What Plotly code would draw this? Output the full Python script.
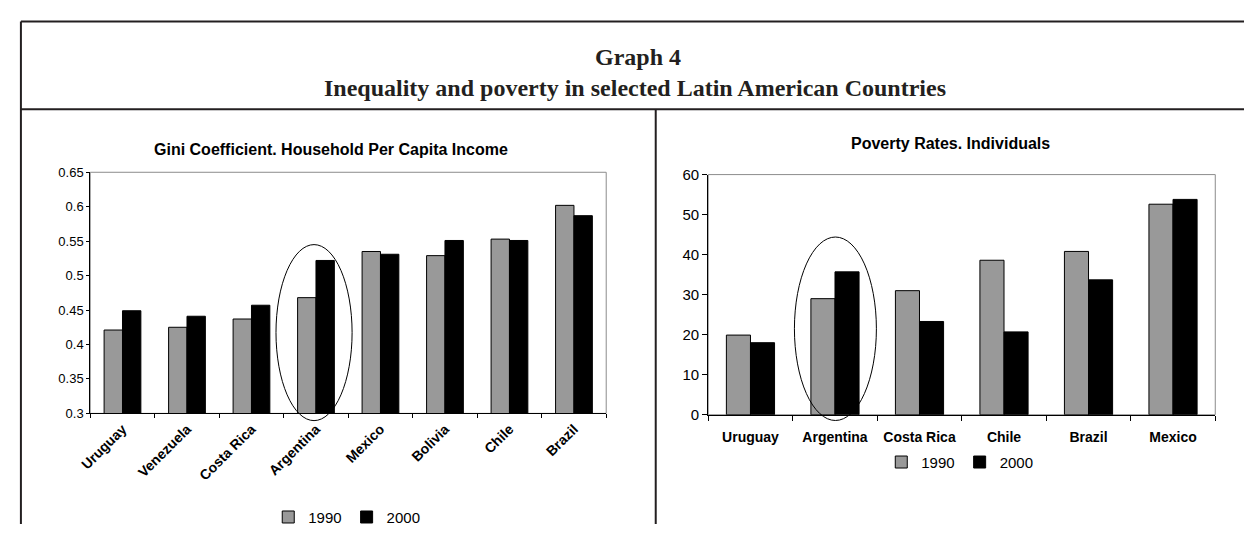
import plotly.graph_objects as go

W, H = 1244, 534

# Gini coefficient, household per capita income
gini_countries = ["Uruguay", "Venezuela", "Costa Rica", "Argentina",
                  "Mexico", "Bolivia", "Chile", "Brazil"]
gini_1990 = [0.421, 0.425, 0.437, 0.468, 0.535, 0.529, 0.553, 0.602]
gini_2000 = [0.449, 0.441, 0.457, 0.522, 0.531, 0.551, 0.551, 0.587]
gini_tickvals = [0.3, 0.35, 0.4, 0.45, 0.5, 0.55, 0.6, 0.65]
gini_ticktext = ["0.3", "0.35", "0.4", "0.45", "0.5", "0.55", "0.6", "0.65"]

# Poverty rates, individuals (%)
pov_countries = ["Uruguay", "Argentina", "Costa Rica", "Chile", "Brazil", "Mexico"]
pov_1990 = [19.9, 29.0, 31.0, 38.6, 40.8, 52.6]
pov_2000 = [18.0, 35.7, 23.3, 20.7, 33.7, 53.8]
pov_tickvals = [0, 10, 20, 30, 40, 50, 60]
pov_ticktext = ["0", "10", "20", "30", "40", "50", "60"]

years = ["1990", "2000"]
GREY = "#999999"
BLACK = "#000000"
SANS = "Liberation Sans, Arial, sans-serif"
SERIF = "Liberation Serif, Times New Roman, serif"
FRAME = "#231f20"


def px(x):
    return x / W


def py(y):
    return 1 - y / H


fig = go.Figure()

for name, vals, col in [(years[0], gini_1990, GREY), (years[1], gini_2000, BLACK)]:
    fig.add_trace(go.Bar(
        x=gini_countries, y=vals, name=name, xaxis="x", yaxis="y",
        marker=dict(color=col, line=dict(color="#000000", width=1)),
        legend="legend", hoverinfo="x+y",
    ))

for name, vals, col in [(years[0], pov_1990, GREY), (years[1], pov_2000, BLACK)]:
    fig.add_trace(go.Bar(
        x=pov_countries, y=vals, name=name, xaxis="x2", yaxis="y2",
        marker=dict(color=col, line=dict(color="#000000", width=1)),
        legend="legend2", hoverinfo="x+y",
    ))

axis_common = dict(showgrid=False, zeroline=False, showline=True,
                   linecolor="#000000", linewidth=1, ticks="outside",
                   tickcolor="#000000", fixedrange=True)

fig.update_layout(
    width=W, height=H, autosize=False,
    margin=dict(l=0, r=0, t=0, b=0),
    paper_bgcolor="white", plot_bgcolor="white",
    barmode="group", bargap=0.43, bargroupgap=0,
    font=dict(family=SANS, color="#000000"),
    xaxis=dict(domain=[px(79), px(600)], anchor="y", type="category",
               tickson="boundaries", ticklen=4, tickangle=-45,
               ticklabelstandoff=1,
               tickfont=dict(family=SANS, size=14, weight="bold"),
               **axis_common),
    yaxis=dict(domain=[py(419.3), py(169.3)], anchor="x",
               range=[0.3, 0.65], tickvals=gini_tickvals, ticktext=gini_ticktext,
               ticklen=3, tickfont=dict(family=SANS, size=13), **axis_common),
    xaxis2=dict(domain=[px(703), px(1215)], anchor="y2", type="category",
                tickson="boundaries", ticklen=5, tickangle=0,
                ticklabelstandoff=9,
                tickfont=dict(family=SANS, size=14, weight="bold"),
                **axis_common),
    yaxis2=dict(domain=[py(420.7), py(171.7)], anchor="x2",
                range=[0, 60], tickvals=pov_tickvals, ticktext=pov_ticktext,
                ticklen=5, tickfont=dict(family=SANS, size=15), **axis_common),
    legend=dict(orientation="h", x=px(338), xanchor="center",
                y=py(527), yanchor="middle", itemwidth=30,
                font=dict(family=SANS, size=15), bgcolor="rgba(0,0,0,0)"),
    legend2=dict(orientation="h", x=px(957), xanchor="center",
                 y=py(470), yanchor="middle", itemwidth=30,
                 font=dict(family=SANS, size=15), bgcolor="rgba(0,0,0,0)"),
)

shapes = []
# plot-area borders (grey frame around each chart's plot area)
for xr, yr in [("x domain", "y domain"), ("x2 domain", "y2 domain")]:
    shapes.append(dict(type="rect", xref=xr, yref=yr, x0=0, x1=1, y0=0, y1=1,
                       line=dict(color="#8c8c8c", width=1), layer="below"))

# outer frame: top rule, header rule, left edge, centre divider
frame_lines = [
    (9, 13, W, 13),
    (9, 104, W, 104),
    (9, 13, 9, H),
    (650, 104, 650, H),
]
for x0, y0, x1, y1 in frame_lines:
    shapes.append(dict(type="line", xref="paper", yref="paper",
                       x0=px(x0), y0=py(y0), x1=px(x1), y1=py(y1),
                       line=dict(color=FRAME, width=2)))

# ellipses highlighting Argentina
shapes.append(dict(type="circle", xref="x", yref="y domain",
                   x0=2.38, x1=3.56, y0=-0.03, y1=0.70,
                   line=dict(color="#000000", width=1), layer="above"))
shapes.append(dict(type="circle", xref="x2", yref="y2 domain",
                   x0=0.52, x1=1.49, y0=-0.024, y1=0.74,
                   line=dict(color="#000000", width=1), layer="above"))
fig.update_layout(shapes=shapes)

annotations = [
    dict(text="Graph 4", x=px(632), y=py(50), xref="paper", yref="paper",
         showarrow=False, xanchor="center", yanchor="middle",
         font=dict(family=SERIF, size=24, weight="bold", color="#231f20")),
    dict(text="Inequality and poverty in selected Latin American Countries",
         x=px(629), y=py(82), xref="paper", yref="paper",
         showarrow=False, xanchor="center", yanchor="middle",
         font=dict(family=SERIF, size=24, weight="bold", color="#231f20")),
    dict(text="Gini Coefficient. Household Per Capita Income",
         x=px(322), y=py(146), xref="paper", yref="paper",
         showarrow=False, xanchor="center", yanchor="middle",
         font=dict(family=SANS, size=16, weight="bold")),
    dict(text="Poverty Rates. Individuals",
         x=px(948), y=py(139), xref="paper", yref="paper",
         showarrow=False, xanchor="center", yanchor="middle",
         font=dict(family=SANS, size=16, weight="bold")),
]
fig.update_layout(annotations=annotations)

fig.write_html("out.html")
